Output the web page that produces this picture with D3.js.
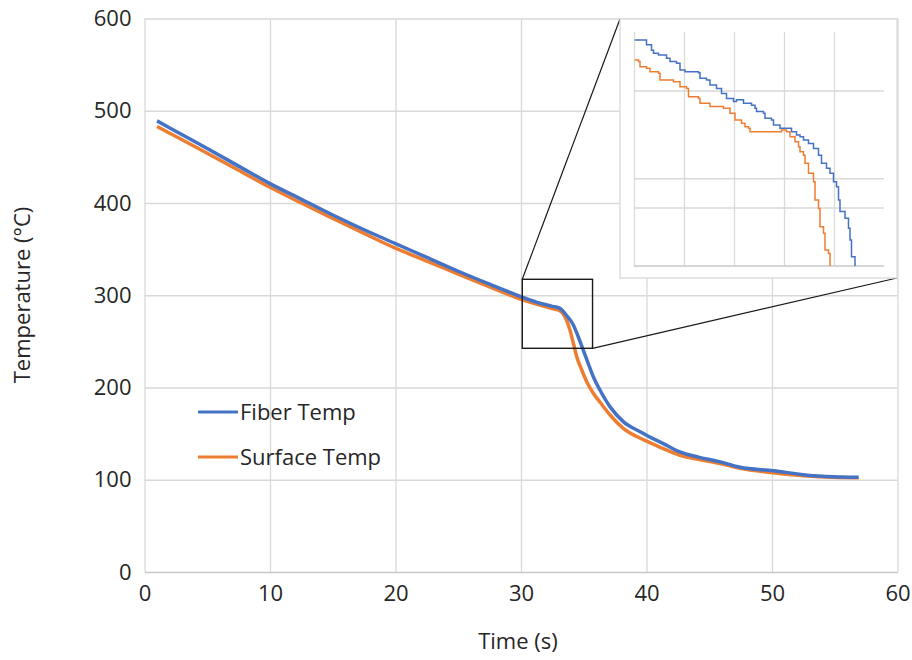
<!DOCTYPE html>
<html>
<head>
<style>
  body {
    margin: 0px;
    background-color: white;
  }
  text {
    font-family: "Open Sans", sans-serif;
    fill: #262626;
  }
  .grid line {
    stroke: #d9d9d9;
    stroke-width: 1.3;
  }
  path.series {
    fill: none;
  }
</style>
<script src="https://cdn.jsdelivr.net/npm/d3@7"></script>
</head>
<body>
<svg></svg>
<script>
// main chart: fiber (blue) and surface (orange) temperature vs time
const fiberTime = [1.0, 3, 5, 7.5, 10, 12.5, 15, 17.5, 20, 22.5, 25, 27.5, 30, 31.5, 32.5, 33.1, 33.6, 34.17,
  34.56, 34.96, 35.36, 35.76, 36.29, 37.1, 38.15, 39.5, 40.1, 41.3, 42.6, 44.2, 45.8, 47.45, 50.1, 52.8, 54.9, 56.9];
const fiberTemp = [489, 474, 459, 440, 421, 404, 387, 371, 356, 341, 326, 312, 298.5, 291.3, 288, 285.8, 278.6, 267.8,
  255, 240.6, 226, 211.7, 197.3, 179, 163, 152, 147.5, 139.5, 130.4, 124.3, 119.6, 113.5, 109.8, 105, 103.3, 102.7];

const surfaceTime = [1.0, 3, 5, 7.5, 10, 12.5, 15, 17.5, 20, 22.5, 25, 27.5, 30, 31.5, 32.5, 33.1, 33.5, 33.9, 34.17,
  34.44, 34.84, 35.24, 35.76, 36.3, 37.1, 38.15, 39.5, 40.1, 41.3, 42.6, 44.2, 45.8, 47.45, 50.1, 52.8, 54.9, 56.9];
const surfaceTemp = [483, 468.5, 454, 435.5, 417, 400, 383.4, 367, 351, 337, 323, 309, 295.6, 289.4, 285.5, 283.3, 276.8, 262.3, 248,
  233.4, 219, 206.3, 193.7, 184, 170.2, 155.8, 145, 141.3, 134, 126.8, 122, 117.9, 112.4, 107.6, 104, 102.7, 102.2];

const xTicks = [0, 10, 20, 30, 40, 50, 60];
const yTicks = [0, 100, 200, 300, 400, 500, 600];

// zoomed region marked on the main chart: [t0, t1], [T0, T1]
const boxTime = [30.1, 35.7];
const boxTemp = [242.5, 317.3];

// inset (magnified view), stepped readings
const insetFiberTime = [30.01, 30.22, 30.25, 30.35, 30.39, 30.49, 30.65, 30.72, 30.85, 30.92, 31.02, 31.29, 31.32, 31.45,
  31.52, 31.65, 31.75, 31.85, 31.99, 32.05, 32.19, 32.35, 32.42, 32.45, 32.59, 32.62, 32.75, 32.79, 32.92, 33.05, 33.15,
  33.25, 33.32, 33.39, 33.49, 33.59, 33.69, 33.75, 33.85, 33.92, 33.99, 34.05, 34.09, 34.12, 34.22, 34.29, 34.32, 34.35, 34.42, 34.42];
const insetFiberTemp = [317.3, 317.3, 315.6, 313.8, 312.7, 312.1, 311.0, 309.9, 309.3, 307.0, 306.4, 306.1, 304.2, 303.6,
  301.9, 300.7, 299.0, 297.3, 296.2, 296.8, 295.6, 295.0, 293.9, 292.8, 292.2, 290.5, 289.9, 288.2, 287.1, 287.1, 285.9,
  284.8, 284.2, 283.1, 281.9, 280.2, 277.9, 275.1, 273.4, 271.7, 268.8, 267.1, 262.6, 258.6, 256.3, 252.9, 248.9, 243.2, 243.2, 240];

const insetSurfaceTime = [30.01, 30.09, 30.12, 30.25, 30.32, 30.49, 30.52, 30.79, 30.92, 31.05, 31.09, 31.29, 31.32, 31.52,
  31.79, 31.92, 32.02, 32.15, 32.22, 32.29, 32.32, 32.89, 32.95, 33.05, 33.12, 33.22, 33.29, 33.32, 33.39, 33.42, 33.49,
  33.59, 33.62, 33.69, 33.72, 33.79, 33.82, 33.89, 33.92];
const insetSurfaceTemp = [310.4, 309.9, 308.1, 307.6, 306.4, 305.9, 303.6, 303.0, 301.3, 300.7, 297.9, 297.3, 295.6, 294.5,
  293.9, 292.2, 289.9, 288.8, 287.6, 287.1, 285.9, 285.9, 286.5, 285.9, 284.2, 282.5, 280.8, 279.1, 277.9, 275.1, 271.7,
  268.8, 262.6, 259.7, 253.4, 251.2, 245.5, 244.3, 240];

const insetXGrid = [30, 31, 32, 33, 34];
const insetYGrid = [300, 270, 260];

const seriesNames = ["Fiber Temp", "Surface Temp"];
const colors = ["#4472c4", "#ed7d31"];

const width = 912, height = 660;
const svg = d3.select("svg")
    .attr("width", width)
    .attr("height", height);

const x = d3.scaleLinear().domain([0, 60]).range([144.5, 897.5]);
const y = d3.scaleLinear().domain([0, 600]).range([572, 18.5]);

// gridlines
svg.append("g")
    .attr("class", "grid")
    .attr("transform", "translate(0," + y(0) + ")")
    .call(d3.axisBottom(x).tickValues(xTicks).tickSize(-(y(0) - y(600))).tickFormat(""))
    .call(g => g.select(".domain").remove());

svg.append("g")
    .attr("class", "grid")
    .attr("transform", "translate(" + x(0) + ",0)")
    .call(d3.axisLeft(y).tickValues(yTicks.slice(1)).tickSize(-(x(60) - x(0))).tickFormat(""))
    .call(g => g.select(".domain").remove());

// axes
const xAxis = svg.append("g")
    .attr("transform", "translate(0," + y(0) + ")")
    .call(d3.axisBottom(x).tickValues(xTicks).tickSize(0).tickPadding(13));
xAxis.select(".domain").attr("stroke", "#c8c8c8").attr("stroke-width", 1.5);

const yAxis = svg.append("g")
    .attr("transform", "translate(" + x(0) + ",0)")
    .call(d3.axisLeft(y).tickValues(yTicks).tickSize(0).tickPadding(13));
yAxis.select(".domain").remove();

svg.selectAll(".tick text")
    .style("font-size", "22px")
    .style("font-family", "'Open Sans', sans-serif")
    .attr("fill", "#262626");

svg.append("text")
    .attr("x", (x(0) + x(60)) / 2 - 3)
    .attr("y", 649)
    .attr("text-anchor", "middle")
    .style("font-size", "22px")
    .text("Time (s)");

svg.append("text")
    .attr("transform", "translate(30," + 295 + ") rotate(-90)")
    .attr("text-anchor", "middle")
    .style("font-size", "22px")
    .text("Temperature (°C)");

// series
const line = d3.line()
    .x(function(d) {return x(d[0])})
    .y(function(d) {return y(d[1])})
    .curve(d3.curveMonotoneX);

const mainData = [
  d3.zip(fiberTime, fiberTemp),
  d3.zip(surfaceTime, surfaceTemp)
];

svg.selectAll("path.main")
    .data(mainData.slice().reverse())
  .enter().append("path")
    .attr("class", "series main")
    .attr("d", line)
    .style("stroke", function(d, i) {return colors[1 - i]})
    .style("stroke-width", 3.5)
    .style("stroke-linejoin", "round");

// legend
const legend = svg.append("g");
seriesNames.forEach(function(name, i) {
  const ly = 412 + i * 45;
  legend.append("line")
      .attr("x1", 198).attr("x2", 238)
      .attr("y1", ly).attr("y2", ly)
      .style("stroke", colors[i])
      .style("stroke-width", 3);
  legend.append("text")
      .attr("x", 240)
      .attr("y", ly + 8)
      .style("font-size", "22px")
      .text(name);
});

// zoom box and connectors
svg.append("rect")
    .attr("x", x(boxTime[0]))
    .attr("y", y(boxTemp[1]))
    .attr("width", x(boxTime[1]) - x(boxTime[0]))
    .attr("height", y(boxTemp[0]) - y(boxTemp[1]))
    .style("fill", "none")
    .style("stroke", "#1a1a1a")
    .style("stroke-width", 1.4);

// inset frame
const insetFrame = {left: 620, top: 19, right: 897, bottom: 278};
svg.append("line")
    .attr("x1", x(boxTime[0])).attr("y1", y(boxTemp[1]))
    .attr("x2", insetFrame.left).attr("y2", insetFrame.top)
    .style("stroke", "#1a1a1a").style("stroke-width", 1.2);
svg.append("line")
    .attr("x1", x(boxTime[1])).attr("y1", y(boxTemp[0]))
    .attr("x2", insetFrame.right).attr("y2", insetFrame.bottom)
    .style("stroke", "#1a1a1a").style("stroke-width", 1.2);

svg.append("rect")
    .attr("x", insetFrame.left)
    .attr("y", insetFrame.top)
    .attr("width", insetFrame.right - insetFrame.left)
    .attr("height", insetFrame.bottom - insetFrame.top)
    .style("fill", "white")
    .style("stroke", "#d9d9d9")
    .style("stroke-width", 1.3);

const ix = d3.scaleLinear().domain([30, 35]).range([634, 884]);
const iy = d3.scaleLinear().domain([240, 320]).range([266, 32]);

const inset = svg.append("g");
inset.append("g")
    .attr("class", "grid")
    .attr("transform", "translate(0," + iy(240) + ")")
    .call(d3.axisBottom(ix).tickValues(insetXGrid).tickSize(-(iy(240) - iy(320))).tickFormat(""))
    .call(g => g.select(".domain").remove());
inset.append("g")
    .attr("class", "grid")
    .attr("transform", "translate(" + ix(30) + ",0)")
    .call(d3.axisLeft(iy).tickValues(insetYGrid).tickSize(-(ix(35) - ix(30))).tickFormat(""))
    .call(g => g.select(".domain").remove());
inset.append("line")
    .attr("x1", ix(30)).attr("x2", ix(35))
    .attr("y1", iy(240)).attr("y2", iy(240))
    .style("stroke", "#c8c8c8").style("stroke-width", 1.3);

const insetLine = d3.line()
    .x(function(d) {return ix(d[0])})
    .y(function(d) {return iy(d[1])})
    .curve(d3.curveStepAfter);

const insetData = [
  d3.zip(insetFiberTime, insetFiberTemp),
  d3.zip(insetSurfaceTime, insetSurfaceTemp)
];

inset.selectAll("path.inset")
    .data(insetData)
  .enter().append("path")
    .attr("class", "series inset")
    .attr("d", insetLine)
    .style("stroke", function(d, i) {return colors[i]})
    .style("stroke-width", 1.5);
</script>
</body>
</html>
